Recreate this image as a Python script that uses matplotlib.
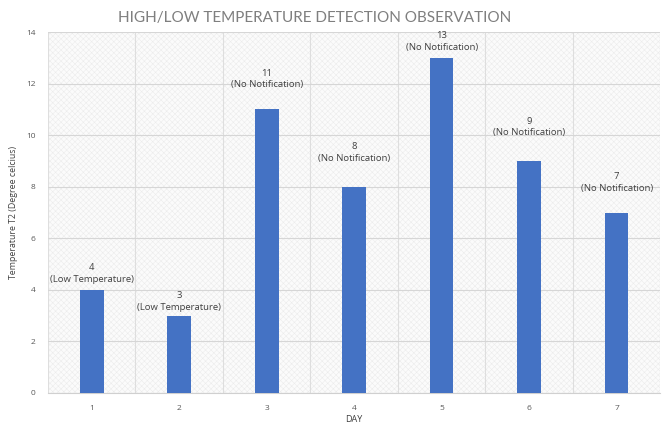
import numpy as np
import matplotlib
matplotlib.use("Agg")
from matplotlib import pyplot as plt
from matplotlib import font_manager
from matplotlib.patches import Rectangle

days = [1, 2, 3, 4, 5, 6, 7]
temps = [4, 3, 11, 8, 13, 9, 7]
notes = ["Low Temperature", "Low Temperature", "No Notification", "No Notification",
         "No Notification", "No Notification", "No Notification"]
# gap (px) between bar top and the label block
gaps = [6, 4, 20, 24, 6, 24, 20]
yticks = [0, 2, 4, 6, 8, 10, 12, 14]

plt.rcParams['font.family'] = ['Open Sans', 'DejaVu Sans']
plt.rcParams['hatch.linewidth'] = 0.4

names = {f.name for f in font_manager.fontManager.ttflist}
title_font = 'Liberation Sans Narrow' if 'Liberation Sans Narrow' in names else 'Lato'

fig = plt.figure(figsize=(6.62, 4.23), dpi=100)
ax = fig.add_axes([0.0725, 0.071, 0.925, 0.853])

# textured plot area
ax.add_patch(Rectangle((0, 0), 1, 1, transform=ax.transAxes, facecolor='#fbfbfb',
                       edgecolor='#ececec', hatch='xxxxxx', lw=0, zorder=0))

x = np.array(days)
ax.bar(x, temps, width=0.27, color='#4472c4', zorder=3)

for xi, t, n, g in zip(x, temps, notes, gaps):
    ax.annotate("%d\n(%s)" % (t, n), (xi, t), xytext=(0, g * 0.72),
                textcoords='offset points', ha='center', va='bottom',
                fontsize=6.8, color='#404040', linespacing=1.35, zorder=4)

ax.set_xlim(0.5, 7.5)
ax.set_ylim(0, 14)
ax.set_yticks(yticks)
ax.set_xticks(x)
ax.set_xticks(np.arange(0.5, 8, 1), minor=True)
ax.grid(axis='y', color='#d6d6d6', lw=0.8, zorder=1)
ax.grid(axis='x', which='minor', color='#dedede', lw=0.8, zorder=1)
ax.tick_params(which='both', length=0, labelsize=6, colors='#595959', pad=9)
for s in ['top', 'right', 'left']:
    ax.spines[s].set_visible(False)
ax.spines['bottom'].set_color('#d0d0d0')

ax.set_xlabel('DAY', fontsize=6.5, color='#404040', labelpad=2)
ax.set_ylabel('Temperature T2 (Degree celcius)', fontsize=6.3, color='#404040', labelpad=6)

fig.text(0.476, 0.958, 'HIGH/LOW TEMPERATURE DETECTION OBSERVATION', ha='center', va='center',
         fontsize=13 if title_font != 'Lato' else 11, color='#7f7f7f',
         family=[title_font, 'DejaVu Sans'])

fig.savefig('out.png', dpi=100)
